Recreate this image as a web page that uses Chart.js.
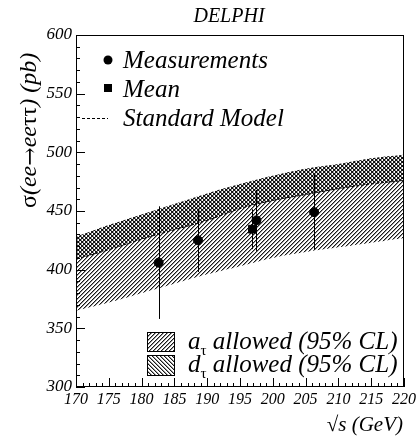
<!DOCTYPE html>
<html><head><meta charset="utf-8">
<script src="https://cdn.jsdelivr.net/npm/chart.js@4.4.0/dist/chart.umd.min.js"></script>
<style>html,body{margin:0;padding:0;background:#fff;overflow:hidden}</style>
</head><body><canvas id="c" width="419" height="436"></canvas>
<script>
// ---- data ----
const energies   = [170, 175, 180, 185, 190, 195, 200, 205, 210, 215, 220];
const bandUpper  = [428, 438, 447, 456, 465, 473, 480, 486, 490, 495, 498];
const smValues   = [409, 417, 426, 434, 442, 452, 459, 464, 469, 473, 476];
const aLower     = [365, 372, 380, 388, 396, 403, 410, 415, 419, 423, 427];
const measEnergy = [182.6, 188.6, 197.5, 206.3];
const measSigma  = [406, 425, 442, 449];
const measErr    = [48, 27, 26, 32];
const meanEnergy = [196.9];
const meanSigma  = [434.5];
const meanErr    = [17];
const xTickValues = [170,175,180,185,190,195,200,205,210,215,220];
const yTickValues = [300,350,400,450,500,550,600];
const legendTop = ['Measurements', 'Mean', 'Standard Model'];
const legendBottom = [['a','τ',' allowed (95% CL)'], ['d','τ',' allowed (95% CL)']];

const SERIF = '"Liberation Serif", "Times New Roman", serif';
const pts = (xs, ys) => xs.map((x, i) => ({x, y: ys[i]}));

function hatch(dir) {
  const n = 4;
  const c = document.createElement('canvas');
  c.width = n; c.height = n;
  const g = c.getContext('2d');
  for (let y = 0; y < n; y++) {
    const x = dir > 0 ? (n - 1 - y) : y;
    g.fillStyle = 'rgba(0,0,0,0.9)';
    g.fillRect(x, y, 1, 1);
    g.fillStyle = 'rgba(0,0,0,0.4)';
    g.fillRect((x + 1) % n, y, 1, 1);
  }
  return g.createPattern(c, 'repeat');
}
const patA = hatch(1);   // ////
const patD = hatch(-1);  // \\\\

function richWidth(ctx, parts) {
  let w = 0;
  for (const p of parts) { ctx.font = p.f; w += ctx.measureText(p.t).width; }
  return w;
}
function drawRich(ctx, parts, x, y) {
  for (const p of parts) {
    ctx.font = p.f;
    ctx.fillText(p.t, x, y + (p.dy || 0));
    x += ctx.measureText(p.t).width;
  }
}

const errorBars = {
  id: 'errorBars',
  afterDatasetsDraw(chart) {
    const {ctx, scales: {x, y}} = chart;
    ctx.save();
    ctx.strokeStyle = '#000'; ctx.lineWidth = 1;
    const draw = (xs, ys, es) => xs.forEach((e, i) => {
      const px = Math.round(x.getPixelForValue(e)) + 0.5;
      ctx.beginPath();
      ctx.moveTo(px, y.getPixelForValue(ys[i] + es[i]));
      ctx.lineTo(px, y.getPixelForValue(ys[i] - es[i]));
      ctx.stroke();
    });
    draw(measEnergy, measSigma, measErr);
    draw(meanEnergy, meanSigma, meanErr);
    ctx.restore();
  }
};

const frameAndTicks = {
  id: 'frameAndTicks',
  afterDraw(chart) {
    const {ctx, chartArea: a, scales: {x, y}} = chart;
    ctx.save();
    ctx.strokeStyle = '#000'; ctx.lineWidth = 1;
    ctx.strokeRect(Math.round(a.left) + 0.5, Math.round(a.top) + 0.5,
                   Math.round(a.right - a.left) - 1, Math.round(a.bottom - a.top) - 1);
    ctx.beginPath();
    for (let v = 170; v <= 220; v += 1) {
      const px = Math.round(x.getPixelForValue(v)) + 0.5;
      const len = (v % 5 === 0) ? 9 : 4;
      ctx.moveTo(px, a.bottom); ctx.lineTo(px, a.bottom - len);
    }
    for (let v = 300; v <= 600; v += 10) {
      const py = Math.round(y.getPixelForValue(v)) + 0.5;
      const len = (v % 50 === 0) ? 9 : 4;
      ctx.moveTo(a.left, py); ctx.lineTo(a.left + len, py);
    }
    ctx.stroke();

    ctx.fillStyle = '#000';
    // title
    ctx.textAlign = 'center'; ctx.textBaseline = 'alphabetic';
    ctx.font = 'italic 20px ' + SERIF;
    ctx.fillText('DELPHI', 229, 22);
    ctx.textAlign = 'left';

    // y title
    ctx.save();
    ctx.translate(30, 208); ctx.rotate(-Math.PI / 2);
    ctx.textBaseline = 'middle';
    const it = 'italic 24px ' + SERIF, up = '24px ' + SERIF;
    drawRich(ctx, [{t:'σ', f:up}, {t:'(ee', f:it}, {t:'→', f:'22px "DejaVu Serif"', dy: 1}, {t:'ee', f:it},
                   {t:'ττ', f:up}, {t:') (pb)', f:it}], 0, 0);
    ctx.restore();

    // x title
    ctx.textBaseline = 'alphabetic';
    const xt = [{t:'√', f:'21px ' + SERIF}, {t:'s (GeV)', f:'italic 21px ' + SERIF}];
    drawRich(ctx, xt, 403 - richWidth(ctx, xt), 431);

    // top legend
    const lf = 'italic 25px ' + SERIF;
    ctx.beginPath(); ctx.arc(108, 60, 4.5, 0, Math.PI * 2); ctx.fill();
    ctx.fillRect(104, 84, 8, 8);
    ctx.save(); ctx.setLineDash([3, 2]); ctx.beginPath();
    ctx.moveTo(82, 118.5); ctx.lineTo(108, 118.5); ctx.stroke(); ctx.restore();
    ctx.font = lf;
    ctx.fillText(legendTop[0], 123, 68);
    ctx.fillText(legendTop[1], 123, 97);
    ctx.fillText(legendTop[2], 123, 126);

    // bottom legend
    const boxes = [[147, 332, 27, 19, patA], [147, 355, 27, 20, patD]];
    boxes.forEach(([bx, by, bw, bh, p], i) => {
      ctx.fillStyle = p; ctx.fillRect(bx, by, bw, bh);
      ctx.strokeRect(bx + 0.5, by + 0.5, bw, bh);
      ctx.fillStyle = '#000';
      const [main, sub, rest] = legendBottom[i];
      drawRich(ctx, [{t: main, f: lf}, {t: sub, f: '15px ' + SERIF, dy: 6}, {t: rest, f: lf}],
               188, i === 0 ? 349 : 372);
    });
    ctx.restore();
  }
};

new Chart(document.getElementById('c'), {
  type: 'line',
  data: {
    datasets: [
      {label: 'a_tau allowed upper', data: pts(energies, bandUpper), fill: 1,
       backgroundColor: patA, borderWidth: 0, pointRadius: 0, tension: 0.4},
      {label: 'a_tau allowed lower', data: pts(energies, aLower), fill: false,
       borderWidth: 0, pointRadius: 0, tension: 0.4},
      {label: 'd_tau allowed upper', data: pts(energies, bandUpper), fill: 3,
       backgroundColor: patD, borderWidth: 0, pointRadius: 0, tension: 0.4},
      {label: 'Standard Model', data: pts(energies, smValues), fill: false,
       borderColor: '#000', borderWidth: 1, borderDash: [3, 2], pointRadius: 0, tension: 0.4},
      {label: 'Measurements', type: 'scatter', data: pts(measEnergy, measSigma),
       pointStyle: 'circle', pointRadius: 4.5, backgroundColor: '#000', borderColor: '#000'},
      {label: 'Mean', type: 'scatter', data: pts(meanEnergy, meanSigma),
       pointStyle: 'rect', pointRadius: 5.5, backgroundColor: '#000', borderColor: '#000'}
    ]
  },
  options: {
    responsive: false, animation: false, devicePixelRatio: 1,
    layout: {padding: {top: 35, right: 14, left: 0, bottom: 0}},
    plugins: {legend: {display: false}, tooltip: {enabled: false}, title: {display: false}},
    scales: {
      x: {type: 'linear', min: 170, max: 220,
          afterFit: s => { s.height = 49; },
          afterBuildTicks: s => { s.ticks = xTickValues.map(v => ({value: v})); },
          grid: {display: false, drawTicks: false}, border: {display: false},
          ticks: {color: '#000', padding: 3, maxRotation: 0, autoSkip: false,
                  font: {family: SERIF, style: 'italic', size: 16}}},
      y: {type: 'linear', min: 300, max: 600,
          afterFit: s => { s.width = 76; },
          afterBuildTicks: s => { s.ticks = yTickValues.map(v => ({value: v})); },
          grid: {display: false, drawTicks: false}, border: {display: false},
          ticks: {color: '#000', padding: 4, autoSkip: false,
                  font: {family: SERIF, style: 'italic', size: 17}}}
    }
  },
  plugins: [errorBars, frameAndTicks]
});
</script></body></html>
